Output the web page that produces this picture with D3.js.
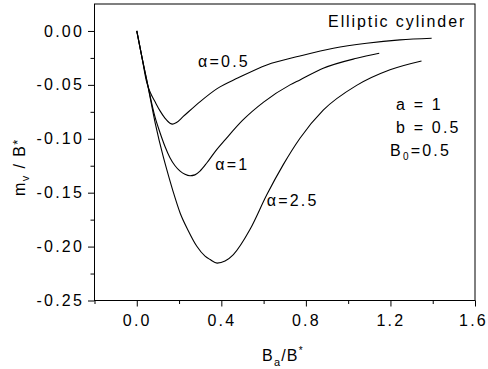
<!DOCTYPE html>
<html>
<head>
<meta charset="utf-8">
<script src="https://cdn.jsdelivr.net/npm/d3@7"></script>
<style>
  body { margin: 0; background: #fff; }
  text { font-family: "Liberation Sans", Arial, sans-serif; fill: #000; }
</style>
</head>
<body>
<div class="chart"></div>
<script>
var svgWidth = 488;
var svgHeight = 369;

var margin = { top: 4, right: 13, bottom: 68.5, left: 94.5 };
var width = svgWidth - margin.left - margin.right;
var height = svgHeight - margin.top - margin.bottom;

// curve data (x = Ba/B*, y = mv/B*)
var xAlpha05 = [0, 0.025, 0.045, 0.055, 0.065, 0.0865, 0.11, 0.134, 0.157, 0.169, 0.186, 0.22, 0.3, 0.38, 0.48, 0.615, 0.772, 0.93, 1.087, 1.245, 1.395];
var yAlpha05 = [0, -0.025, -0.046, -0.0525, -0.0575, -0.0657, -0.0741, -0.081, -0.0856, -0.0864, -0.0852, -0.0793, -0.0655, -0.0535, -0.0435, -0.0315, -0.0232, -0.016, -0.0114, -0.0083, -0.0068];

var xAlpha1 = [0, 0.025, 0.0487, 0.0865, 0.11, 0.134, 0.157, 0.181, 0.205, 0.228, 0.252, 0.275, 0.299, 0.331, 0.378, 0.4175, 0.5, 0.6, 0.725, 0.772, 0.882, 1.04, 1.147];
var yAlpha1 = [0, -0.025, -0.047, -0.08, -0.0944, -0.1074, -0.1176, -0.125, -0.13, -0.1329, -0.1343, -0.1335, -0.13, -0.1225, -0.11, -0.101, -0.083, -0.066, -0.05, -0.0454, -0.0346, -0.0253, -0.0207];

var xAlpha25 = [0, 0.025, 0.0487, 0.088, 0.124, 0.142, 0.172, 0.205, 0.243, 0.284, 0.323, 0.347, 0.38, 0.4175, 0.457, 0.536, 0.615, 0.693, 0.772, 0.882, 1.04, 1.198, 1.347];
var yAlpha25 = [0, -0.025, -0.0472, -0.0861, -0.1157, -0.1287, -0.149, -0.1688, -0.185, -0.1997, -0.2088, -0.212, -0.2153, -0.2134, -0.2074, -0.184, -0.152, -0.124, -0.0995, -0.0735, -0.0505, -0.036, -0.0278];

var xMajorTicks = [0, 0.4, 0.8, 1.2, 1.6];
var xMinorTicks = [-0.2, 0.2, 0.6, 1.0, 1.4];
var yMajorTicks = [0, -0.05, -0.1, -0.15, -0.2, -0.25];
var yMinorTicks = [-0.025, -0.075, -0.125, -0.175, -0.225];

var svg = d3.select(".chart")
  .append("svg")
  .attr("width", svgWidth)
  .attr("height", svgHeight);

var chartGroup = svg.append("g")
  .attr("transform", `translate(${margin.left}, ${margin.top})`);

var xScale = d3.scaleLinear().domain([-0.2, 1.6]).range([0, width]);
var yScale = d3.scaleLinear().domain([-0.25, 0.025]).range([height, 0]);

var fontSize = "16px";
var spacing = "2.2px";

// frame
chartGroup.append("rect")
  .attr("x", 0)
  .attr("y", 0)
  .attr("width", width)
  .attr("height", height)
  .attr("fill", "none")
  .attr("stroke", "#000")
  .attr("stroke-width", 1);

// x axis
var xAxis = chartGroup.append("g")
  .attr("transform", `translate(0,${height})`)
  .call(d3.axisBottom(xScale).tickValues(xMajorTicks).tickSize(6).tickSizeOuter(0)
    .tickFormat(d3.format(".1f")));
chartGroup.append("g")
  .attr("transform", `translate(0,${height})`)
  .call(d3.axisBottom(xScale).tickValues(xMinorTicks).tickSize(3.5).tickSizeOuter(0).tickFormat(""));

// y axis
var yAxis = chartGroup.append("g")
  .call(d3.axisLeft(yScale).tickValues(yMajorTicks).tickSize(6.5).tickSizeOuter(0)
    .tickPadding(4)
    .tickFormat(d => d3.format(".2f")(d).replace("−", "-")));
chartGroup.append("g")
  .call(d3.axisLeft(yScale).tickValues(yMinorTicks).tickSize(4).tickSizeOuter(0).tickFormat(""));

chartGroup.selectAll(".domain").remove();
chartGroup.selectAll(".tick line").attr("stroke", "#000");
chartGroup.selectAll(".tick text")
  .style("font-size", fontSize)
  .style("letter-spacing", spacing)
  .style("font-family", '"Liberation Sans", Arial, sans-serif')
  .attr("fill", "#000");
xAxis.selectAll(".tick text").attr("dy", "1.05em");
// keep the last label inside the page
xAxis.selectAll(".tick text").filter(d => d === 1.6).attr("dx", "-2px");

// curves
var line = d3.line()
  .x(d => xScale(d[0]))
  .y(d => yScale(d[1]))
  .curve(d3.curveMonotoneX);

var series = [
  d3.zip(xAlpha05, yAlpha05),
  d3.zip(xAlpha1, yAlpha1),
  d3.zip(xAlpha25, yAlpha25)
];

chartGroup.selectAll(".curve")
  .data(series)
  .enter()
  .append("path")
  .attr("class", "curve")
  .attr("d", line)
  .attr("fill", "none")
  .attr("stroke", "#000")
  .attr("stroke-width", 1.1);

// annotation text
function addText(x, y, parts, ls) {
  var t = chartGroup.append("text")
    .attr("x", xScale(x))
    .attr("y", yScale(y))
    .style("font-size", fontSize)
    .style("letter-spacing", ls || spacing);
  parts.forEach(function (p) {
    var ts = t.append("tspan").text(p.t);
    if (p.sub) ts.style("font-size", "10px").attr("dy", p.dy);
    if (p.back) ts.attr("dy", p.back);
  });
  return t;
}

addText(0.905, 0.004, [{ t: "Elliptic cylinder" }], "1.9px");
addText(0.29, -0.0333, [{ t: "α=0.5" }]);
addText(0.371, -0.1293, [{ t: "α=1" }]);
addText(0.615, -0.162, [{ t: "α=2.5" }]);
addText(1.226, -0.0732, [{ t: "a = 1" }]);
addText(1.226, -0.0948, [{ t: "b = 0.5" }]);
addText(1.198, -0.1164, [{ t: "B" }, { t: "0", sub: true, dy: "4" }, { t: "=0.5", back: "-4" }]);

// axis titles
var xTitle = svg.append("text")
  .attr("x", 262)
  .attr("y", 361)
  .style("font-size", fontSize)
  .style("letter-spacing", "1.2px");
xTitle.append("tspan").text("B");
xTitle.append("tspan").text("a").style("font-size", "11px").attr("dy", 5);
xTitle.append("tspan").text("/B").attr("dy", -5);
xTitle.append("tspan").text("*").style("font-size", "10px").attr("dy", -7);

var yTitle = svg.append("text")
  .attr("transform", "translate(25,196) rotate(-90)")
  .attr("x", 0)
  .attr("y", 0)
  .style("font-size", fontSize)
  .style("letter-spacing", "1.4px");
yTitle.append("tspan").text("m");
yTitle.append("tspan").text("v").style("font-size", "11px").attr("dy", 4);
yTitle.append("tspan").text(" / B").attr("dy", -4);
yTitle.append("tspan").text("*").style("font-size", "13px").attr("dy", -3);
</script>
</body>
</html>
